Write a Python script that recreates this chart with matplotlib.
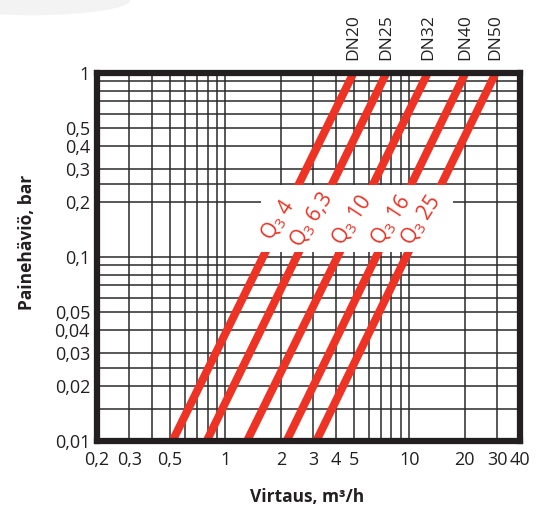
import matplotlib
matplotlib.use('Agg')
import matplotlib.pyplot as plt
from matplotlib.patches import Rectangle, Ellipse
import numpy as np

plt.rcParams['font.family'] = ['Open Sans', 'DejaVu Sans']
plt.rcParams['mathtext.default'] = 'regular'

# ---- data ----
sizes = ['DN20', 'DN25', 'DN32', 'DN40', 'DN50']
q3_labels = ['4', '6,3', '10', '16', '25']
flow_at_low = [0.515, 0.79, 1.31, 2.15, 3.12]   # m3/h at 0.01 bar
flow_at_high = [4.97, 7.5, 12.6, 20.2, 29.5]    # m3/h at 1 bar
dp_range = [0.01, 1.0]

x_ticks = [0.2, 0.3, 0.5, 1, 2, 3, 4, 5, 10, 20, 30, 40]
x_labels = ['0,2', '0,3', '0,5', '1', '2', '3', '4', '5', '10', '20', '30', '40']
y_ticks = [0.01, 0.02, 0.03, 0.04, 0.05, 0.1, 0.2, 0.3, 0.4, 0.5, 1]
y_labels = ['0,01', '0,02', '0,03', '0,04', '0,05', '0,1', '0,2', '0,3', '0,4', '0,5', '1']
x_grid = [0.3, 0.4, 0.5, 0.6, 0.7, 0.8, 0.9, 1, 2, 3, 4, 5, 6, 7, 8, 9, 10, 20, 30]
y_grid = [0.015, 0.02, 0.025, 0.03, 0.04, 0.05, 0.06, 0.07, 0.08, 0.09, 0.1,
          0.2, 0.25, 0.3, 0.4, 0.5, 0.6, 0.7, 0.8, 0.9]

RED = '#EE3224'
DARK = '#231F20'

fig = plt.figure(figsize=(5.43, 5.09), dpi=100)
fig.patches.append(Ellipse((0.06, 1.0), 0.36, 0.06, transform=fig.transFigure,
                           facecolor='#f3f3f3', edgecolor='none', zorder=0))
ax = fig.add_axes([0.1786, 0.1336, 0.779, 0.723])
ax.set_xscale('log')
ax.set_yscale('log')
ax.set_xlim(0.2, 40)
ax.set_ylim(0.01, 1)

for v in x_grid:
    ax.axvline(v, color='#2a2a2a', lw=1.1, zorder=1)
for v in y_grid:
    ax.axhline(v, color='#2a2a2a', lw=1.1, zorder=1)

ax.set_xticks(x_ticks)
ax.set_xticklabels(x_labels)
ax.set_xticks([], minor=True)
ax.set_yticks(y_ticks)
ax.set_yticklabels(y_labels)
ax.set_yticks([], minor=True)
ax.tick_params(length=0, labelsize=13, pad=5, colors=DARK)
ax.tick_params(axis='x', pad=7)

for s in ax.spines.values():
    s.set_linewidth(4.5)
    s.set_color(DARK)
    s.set_zorder(6)

for i in range(len(sizes)):
    ax.plot([flow_at_low[i], flow_at_high[i]], dp_range, color=RED, lw=5.8,
            solid_capstyle='butt', zorder=3)

box = Rectangle((1.56, 0.107), 17.2 - 1.56, 0.245 - 0.107, facecolor='white',
                edgecolor='none', zorder=4)
ax.add_patch(box)

y_lab = 0.158
for i in range(len(sizes)):
    xl = 10 ** np.interp(np.log10(y_lab), np.log10(dp_range),
                         np.log10([flow_at_low[i], flow_at_high[i]]))
    ax.text(xl * 0.97, y_lab, 'Q$_3$ ' + q3_labels[i], rotation=57, ha='center',
            va='center', rotation_mode='anchor', color=RED, fontsize=15, zorder=5)
    ax.annotate(sizes[i], xy=(flow_at_high[i], 1.0), xytext=(0, 9),
                textcoords='offset points', rotation=90, ha='center', va='bottom',
                fontsize=12.5, color=DARK, annotation_clip=False)

fig.text(0.565, 0.024, 'Virtaus, m³/h', ha='center', va='center', fontsize=12.5,
         fontweight='bold', color=DARK)
fig.text(0.05, 0.524, 'Painehäviö, bar', ha='center', va='center', rotation=90,
         fontsize=12.5, fontweight='bold', color=DARK)

fig.savefig('out.png', dpi=100)
